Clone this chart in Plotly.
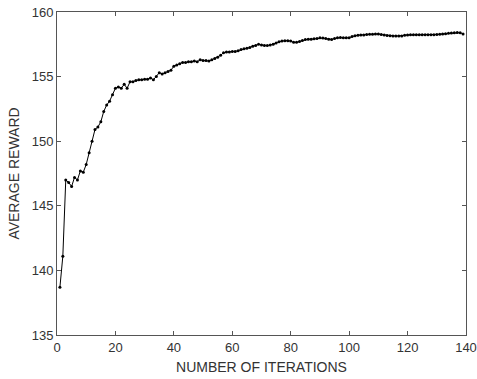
import plotly.graph_objects as go

iterations = list(range(1, 140))
avg_reward = [
    138.7, 141.1, 147.0, 146.8, 146.5, 147.2, 147.0, 147.7, 147.6, 148.2,
    149.1, 150.0, 150.9, 151.1, 151.5, 152.3, 152.8, 153.1, 153.6, 154.1,
    154.2, 154.1, 154.4, 154.1, 154.6, 154.6, 154.7, 154.75, 154.75, 154.8,
    154.8, 154.9, 154.75, 155.0, 155.3, 155.2, 155.3, 155.4, 155.5, 155.8,
    155.9, 156.0, 156.1, 156.1, 156.15, 156.15, 156.2, 156.15, 156.3, 156.25,
    156.25, 156.2, 156.3, 156.4, 156.5, 156.65, 156.85, 156.9, 156.9, 156.95,
    156.95, 157.0, 157.1, 157.15, 157.2, 157.25, 157.35, 157.4, 157.5, 157.45,
    157.4, 157.4, 157.45, 157.5, 157.6, 157.7, 157.75, 157.78, 157.78, 157.75,
    157.65, 157.65, 157.72, 157.8, 157.88, 157.9, 157.9, 157.92, 157.95, 158.0,
    157.98, 157.95, 157.9, 157.88, 157.95, 158.0, 158.02, 158.0, 158.0, 158.0,
    158.1, 158.16, 158.2, 158.22, 158.22, 158.25, 158.27, 158.28, 158.3, 158.3,
    158.25, 158.22, 158.18, 158.16, 158.15, 158.14, 158.15, 158.15, 158.2, 158.22,
    158.24, 158.24, 158.24, 158.24, 158.24, 158.24, 158.24, 158.24, 158.24, 158.25,
    158.27, 158.3, 158.32, 158.35, 158.38, 158.4, 158.42, 158.4, 158.3,
]
x_ticks = [0, 20, 40, 60, 80, 100, 120, 140]
y_ticks = [135, 140, 145, 150, 155, 160]

fig = go.Figure(go.Scatter(
    x=iterations, y=avg_reward, mode="lines+markers",
    line=dict(color="black", width=1),
    marker=dict(color="black", size=3),
))

axis_common = dict(
    showgrid=False, zeroline=False, showline=True, linecolor="#555555", linewidth=1,
    mirror="ticks", ticks="inside", ticklen=4, tickcolor="#555555", automargin=False,
    tickfont=dict(family="Liberation Sans, Arial", size=13, color="#333333"),
)
fig.update_xaxes(range=[0, 140], tickvals=x_ticks,
                 title=dict(text="NUMBER OF ITERATIONS", standoff=8,
                            font=dict(family="Liberation Sans, Arial", size=14, color="#333333")),
                 **axis_common)
fig.update_yaxes(range=[135, 160], tickvals=y_ticks,
                 title=dict(text="AVERAGE REWARD", standoff=8,
                            font=dict(family="Liberation Sans, Arial", size=14, color="#333333")),
                 **axis_common)
fig.update_layout(
    width=477, height=379, margin=dict(l=57, r=11, t=12, b=44),
    plot_bgcolor="white", paper_bgcolor="white", showlegend=False,
)
fig.write_html("out.html")
